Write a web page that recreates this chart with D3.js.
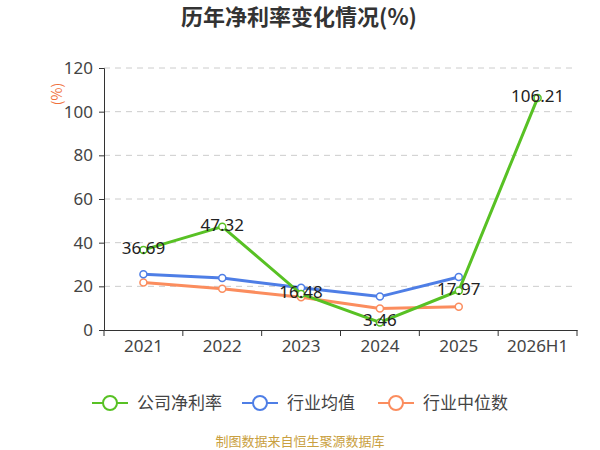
<!DOCTYPE html>
<html><head><meta charset="utf-8">
<script src="https://cdn.jsdelivr.net/npm/d3@7"></script>
<style>body{margin:0;background:#fff;}svg{font-family:"Noto Sans CJK SC","Noto Sans",sans-serif;}</style>
</head><body><svg id="c" width="600" height="450"></svg>
<script>
const categories = ["2021","2022","2023","2024","2025","2026H1"];
const companyNet = [36.69, 47.32, 16.48, 3.46, 17.97, 106.21];
const industryAvg = [25.5, 23.8, 19.4, 15.3, 24.3, null];
const industryMedian = [21.8, 18.9, 15.0, 9.9, 10.7, null];
const yTicks = [0,20,40,60,80,100,120];
const seriesNames = ["公司净利率","行业均值","行业中位数"];
const colors = ["#58c124","#4e7ee6","#fb8d5e"];

const svg = d3.select("#c");
const m = {l:104, r:577, t:68, b:330};
const x = d3.scaleBand().domain(categories).range([m.l, m.r]);
const y = d3.scaleLinear().domain([0,120]).range([m.b, m.t]);

svg.append("text").attr("x",299).attr("y",25).attr("text-anchor","middle")
  .attr("font-size",22).attr("font-weight","bold").attr("fill","#333").text("历年净利率变化情况(%)");

// grid
svg.append("g").selectAll("line").data(yTicks.filter(d=>d>0)).join("line")
  .attr("x1",m.l).attr("x2",m.r).attr("y1",d=>y(d)).attr("y2",d=>y(d))
  .attr("stroke","#ccc").attr("stroke-dasharray","6,5").attr("stroke-width",1);

const ya = svg.append("g").attr("transform",`translate(${m.l},0)`)
  .call(d3.axisLeft(y).tickValues(yTicks).tickSize(5).tickPadding(6));
ya.select(".domain").attr("stroke","#333");
ya.selectAll(".tick line").attr("stroke","#333");
ya.selectAll("text").attr("font-size",17).attr("fill","#444").attr("font-family","'Noto Sans',sans-serif");

const xa = svg.append("g").attr("transform",`translate(0,${m.b})`)
  .call(d3.axisBottom(x).tickSize(0).tickPadding(10));
xa.select(".domain").attr("stroke","#333");
xa.selectAll("text").attr("font-size",17).attr("fill","#444").attr("font-family","'Noto Sans',sans-serif");
xa.selectAll(".xt").data(categories.concat(["_end"])).join("line")
  .attr("x1",(d,i)=>m.l+i*x.step()).attr("x2",(d,i)=>m.l+i*x.step())
  .attr("y1",0).attr("y2",6).attr("stroke","#333");

svg.append("text").attr("transform","translate(62,94) rotate(-90)").attr("text-anchor","middle")
  .attr("font-size",14).attr("fill","#f0703a").text("(%)");

const cx = d => x(d)+x.bandwidth()/2;
const all = [companyNet, industryAvg, industryMedian];
const order = [2,1,0];
order.forEach(si=>{
  const data = categories.map((c,i)=>({c, v: all[si][i]})).filter(d=>d.v!=null);
  const line = d3.line().x(d=>cx(d.c)).y(d=>y(d.v));
  svg.append("path").datum(data).attr("d",line).attr("fill","none")
    .attr("stroke",colors[si]).attr("stroke-width",3);
  svg.append("g").selectAll("circle").data(data).join("circle")
    .attr("cx",d=>cx(d.c)).attr("cy",d=>y(d.v)).attr("r",3.5)
    .attr("fill","#fff").attr("stroke",colors[si]).attr("stroke-width",1.5);
});
svg.append("g").selectAll("text").data(categories.map((c,i)=>({c,v:companyNet[i]}))).join("text")
  .attr("x",d=>cx(d.c)).attr("y",d=>y(d.v)-2).attr("dy","0.35em").attr("text-anchor","middle")
  .attr("font-size",17).attr("fill","#222").attr("font-family","'Noto Sans',sans-serif")
  .text(d=>d.v.toFixed(2));

// legend
const lx = [92, 242, 378];
const lg = svg.append("g");
seriesNames.forEach((n,i)=>{
  const g = lg.append("g").attr("transform",`translate(${lx[i]},403)`);
  g.append("line").attr("x1",0).attr("x2",36).attr("stroke",colors[i]).attr("stroke-width",2);
  g.append("circle").attr("cx",18).attr("r",7).attr("fill","#fff").attr("stroke",colors[i]).attr("stroke-width",2);
  g.append("text").attr("x",45).attr("dy","0.35em").attr("font-size",17).attr("fill","#444").text(n);
});

svg.append("text").attr("x",300).attr("y",446).attr("text-anchor","middle")
  .attr("font-size",13).attr("fill","#c9a040").text("制图数据来自恒生聚源数据库");
</script></body></html>
